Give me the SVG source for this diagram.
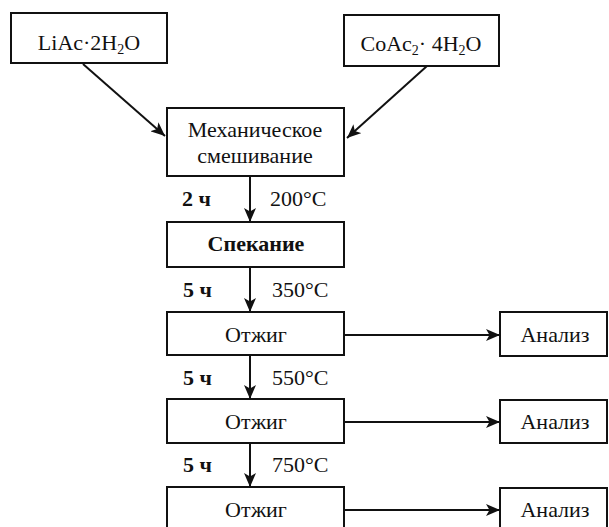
<svg xmlns="http://www.w3.org/2000/svg" width="609" height="527" viewBox="0 0 609 527">
<style>
.box{fill:#fff;stroke:#111;stroke-width:2}
.t{font-family:"Liberation Serif","Times New Roman",serif;font-size:22px;fill:#111;text-anchor:middle}
.b{font-weight:bold}
.lbl{font-family:"Liberation Serif","Times New Roman",serif;font-size:22px;fill:#111}
.ln{stroke:#111;stroke-width:2;fill:none;marker-end:url(#ah)}
</style>
<defs>
<marker id="ah" viewBox="0 0 14 12" refX="14" refY="6" markerWidth="14" markerHeight="12" markerUnits="userSpaceOnUse" orient="auto">
<path d="M0,0 L14,6 L0,12 L3.5,6 Z" fill="#111"/>
</marker>
</defs>
<rect width="609" height="527" fill="#fff"/>
<g id="connectors">
<line class="ln" x1="83" y1="64" x2="165" y2="136"/>
<line class="ln" x1="427" y1="66" x2="347" y2="138"/>
<line class="ln" x1="250" y1="176" x2="250" y2="222"/>
<line class="ln" x1="250" y1="267" x2="250" y2="312"/>
<line class="ln" x1="250" y1="355" x2="250" y2="399"/>
<line class="ln" x1="250" y1="443" x2="250" y2="487"/>
<line class="ln" x1="344" y1="335" x2="500" y2="335"/>
<line class="ln" x1="344" y1="422" x2="500" y2="422"/>
<line class="ln" x1="344" y1="510" x2="500" y2="510"/>
<text class="lbl b" x="182" y="206">2 ч</text>
<text class="lbl" x="270" y="206">200°C</text>
<text class="lbl b" x="183" y="297">5 ч</text>
<text class="lbl" x="272" y="297">350°C</text>
<text class="lbl b" x="183" y="385">5 ч</text>
<text class="lbl" x="272" y="385">550°C</text>
<text class="lbl b" x="183" y="472">5 ч</text>
<text class="lbl" x="272" y="472">750°C</text>
</g>
<g id="liac">
<rect class="box" x="11" y="13" width="156" height="50"/>
<text class="t" x="89" y="50">LiAc·2H<tspan font-size="14" dy="4">2</tspan><tspan dy="-4">O</tspan></text>
</g>
<g id="coac">
<rect class="box" x="344" y="15" width="155" height="51"/>
<text class="t" x="421" y="51">CoAc<tspan font-size="14" dy="4">2</tspan><tspan dy="-4">· 4H</tspan><tspan font-size="14" dy="4">2</tspan><tspan dy="-4">O</tspan></text>
</g>
<g id="mix">
<rect class="box" x="167" y="108" width="177" height="68"/>
<text class="t" x="255" y="137">Механическое</text>
<text class="t" x="255" y="163">смешивание</text>
</g>
<g id="sinter">
<rect class="box" x="167" y="222" width="177" height="45"/>
<text class="t b" x="256" y="251">Спекание</text>
</g>
<g id="anneal1">
<rect class="box" x="167" y="312" width="177" height="43"/>
<text class="t" x="256" y="342">Отжиг</text>
</g>
<g id="anneal2">
<rect class="box" x="167" y="399" width="177" height="44"/>
<text class="t" x="256" y="429">Отжиг</text>
</g>
<g id="anneal3">
<rect class="box" x="167" y="487" width="177" height="50"/>
<text class="t" x="256" y="517">Отжиг</text>
</g>
<g id="analysis1">
<rect class="box" x="500" y="312" width="107" height="44"/>
<text class="t" x="555" y="342">Анализ</text>
</g>
<g id="analysis2">
<rect class="box" x="500" y="400" width="107" height="43"/>
<text class="t" x="555" y="429">Анализ</text>
</g>
<g id="analysis3">
<rect class="box" x="500" y="488" width="107" height="50"/>
<text class="t" x="555" y="517">Анализ</text>
</g>
</svg>
